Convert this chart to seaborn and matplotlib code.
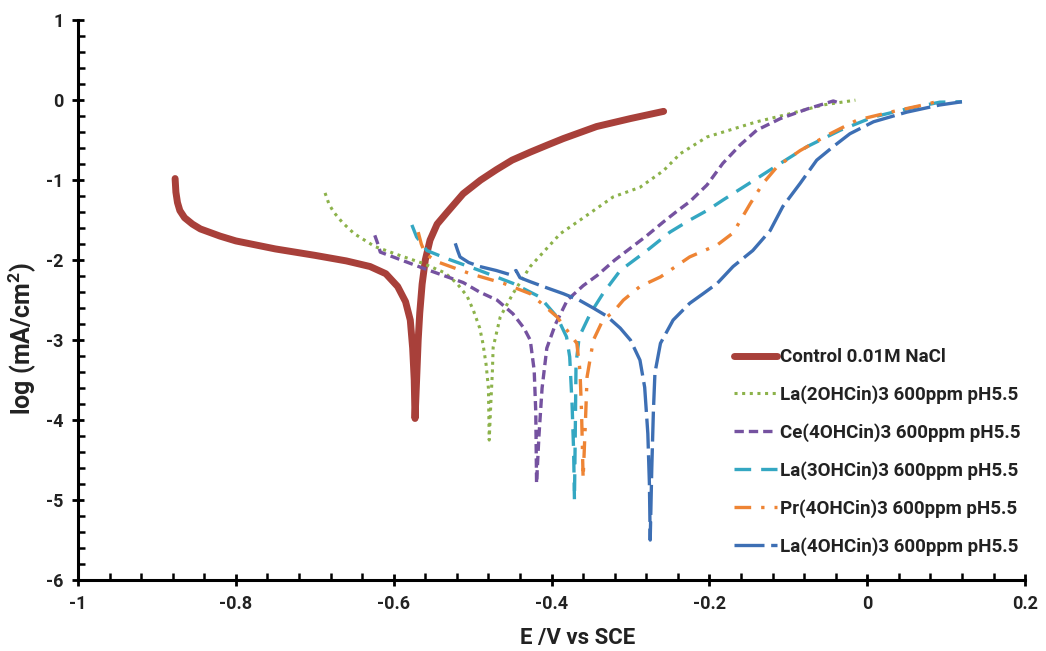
import numpy as np
import pandas as pd
import matplotlib
matplotlib.use("Agg")
import matplotlib.pyplot as plt
import seaborn as sns
from matplotlib.ticker import MultipleLocator

# -------------------------------
# Data (E in V vs SCE, log current density)
# -------------------------------
control_x = [-0.877, -0.876, -0.874, -0.871, -0.865, -0.855, -0.845, -0.82, -0.80, -0.75, -0.70, -0.66,
             -0.63, -0.61, -0.595, -0.585, -0.579, -0.576, -0.574, -0.573,
             -0.571, -0.569, -0.567, -0.564, -0.560, -0.554, -0.545, -0.533, -0.512, -0.49, -0.47,
             -0.45, -0.427, -0.405, -0.385, -0.343, -0.30, -0.258]
control_y = [-0.98, -1.15, -1.28, -1.38, -1.47, -1.55, -1.61, -1.70, -1.76, -1.86, -1.94, -2.01,
             -2.08, -2.17, -2.33, -2.52, -2.75, -3.1, -3.5, -3.98,
             -3.5, -3.0, -2.66, -2.3, -2.0, -1.75, -1.55, -1.41, -1.17, -1.0, -0.87,
             -0.75, -0.65, -0.56, -0.48, -0.33, -0.23, -0.14]

la2_x = [-0.687, -0.682, -0.676, -0.665, -0.650, -0.624, -0.59, -0.563, -0.535, -0.520, -0.507, -0.499,
         -0.491, -0.487, -0.483, -0.480, -0.479,
         -0.477, -0.475, -0.474, -0.465, -0.449, -0.427, -0.389, -0.364, -0.322, -0.288, -0.258,
         -0.237, -0.203, -0.183, -0.14, -0.098, -0.056, -0.015]
la2_y = [-1.16, -1.30, -1.40, -1.53, -1.67, -1.83, -1.95, -2.04, -2.16, -2.29, -2.45, -2.63,
         -2.85, -3.04, -3.3, -3.6, -4.25,
         -3.8, -3.4, -3.09, -2.71, -2.42, -2.08, -1.67, -1.5, -1.21, -1.09, -0.88,
         -0.67, -0.46, -0.40, -0.27, -0.17, -0.06, 0.0]

ce4_x = [-0.624, -0.620, -0.617, -0.59, -0.563, -0.512, -0.491, -0.469, -0.449, -0.435, -0.427, -0.422,
         -0.420, -0.419,
         -0.416, -0.412, -0.406, -0.395, -0.380, -0.36, -0.342, -0.32, -0.30, -0.28, -0.258, -0.24,
         -0.225, -0.203, -0.183, -0.161, -0.140, -0.110, -0.076, -0.043, -0.034]
ce4_y = [-1.69, -1.80, -1.90, -2.0, -2.10, -2.28, -2.40, -2.50, -2.67, -2.85, -3.0, -3.38,
         -3.9, -4.79,
         -4.2, -3.6, -3.1, -2.8, -2.5, -2.32, -2.19, -2.0, -1.85, -1.70, -1.52, -1.38,
         -1.27, -1.06, -0.79, -0.56, -0.375, -0.23, -0.11, -0.01, -0.04]

la3_x = [-0.577, -0.571, -0.558, -0.533, -0.491, -0.449, -0.415, -0.393, -0.381, -0.377, -0.374, -0.372,
         -0.371,
         -0.370, -0.369, -0.365, -0.351, -0.335, -0.313, -0.279, -0.250, -0.225, -0.203, -0.183,
         -0.140, -0.110, -0.076, -0.034, 0.008, 0.050, 0.092, 0.12]
la3_y = [-1.56, -1.71, -1.88, -1.98, -2.13, -2.29, -2.46, -2.71, -2.96, -3.21, -3.8, -4.4,
         -5.0,
         -4.2, -3.3, -2.96, -2.67, -2.42, -2.13, -1.88, -1.65, -1.5, -1.38, -1.25,
         -0.98, -0.79, -0.58, -0.375, -0.21, -0.11, -0.025, -0.02]

pr4_x = [-0.569, -0.565, -0.560, -0.545, -0.503, -0.461, -0.427, -0.393, -0.368, -0.364, -0.362, -0.360,
         -0.357, -0.355, -0.347, -0.335, -0.322, -0.309, -0.288, -0.262, -0.225, -0.19, -0.170,
         -0.148, -0.132, -0.114, -0.085, -0.047, -0.013, 0.029, 0.071, 0.096]
pr4_y = [-1.65, -1.80, -1.92, -2.02, -2.17, -2.29, -2.42, -2.71, -3.04, -3.38, -3.9, -4.73,
         -4.0, -3.46, -3.0, -2.75, -2.65, -2.5, -2.33, -2.21, -1.96, -1.81, -1.66,
         -1.29, -1.04, -0.83, -0.63, -0.42, -0.25, -0.15, -0.06, 0.0]

la4_x = [-0.522, -0.519, -0.516, -0.505, -0.491, -0.470, -0.453, -0.445, -0.440, -0.427, -0.405, -0.385,
         -0.365, -0.347, -0.330, -0.313, -0.300, -0.288, -0.282, -0.278, -0.276, -0.275,
         -0.273, -0.271, -0.269, -0.262, -0.246, -0.225, -0.208, -0.190, -0.170, -0.145, -0.123,
         -0.107, -0.085, -0.064, -0.043, -0.022, 0.008, 0.050, 0.092, 0.12]
la4_y = [-1.79, -1.88, -1.96, -2.03, -2.08, -2.13, -2.18, -2.13, -2.22, -2.27, -2.35, -2.42,
         -2.50, -2.60, -2.70, -2.85, -3.0, -3.25, -3.59, -4.17, -4.8, -5.5,
         -4.6, -3.9, -3.41, -3.04, -2.75, -2.54, -2.42, -2.29, -2.08, -1.88, -1.63,
         -1.33, -1.04, -0.75, -0.58, -0.42, -0.27, -0.15, -0.06, -0.02]

labels = ["Control 0.01M NaCl", "La(2OHCin)3 600ppm pH5.5", "Ce(4OHCin)3 600ppm pH5.5",
          "La(3OHCin)3 600ppm pH5.5", "Pr(4OHCin)3 600ppm pH5.5", "La(4OHCin)3 600ppm pH5.5"]
series = [(control_x, control_y), (la2_x, la2_y), (ce4_x, ce4_y),
          (la3_x, la3_y), (pr4_x, pr4_y), (la4_x, la4_y)]

# -------------------------------
# Styles
# -------------------------------
colors = ["#a8403a", "#8cb24a", "#7552a0", "#34a7c2", "#ee8434", "#3d6fb4"]
widths = [5.0, 2.2, 2.4, 2.4, 2.4, 2.4]
dashes = ["-", (0, (1, 1.5)), (0, (2.8, 1.5)), (0, (5, 3)), (0, (5, 3, 1, 3)), (0, (9, 2))]

sns.set_style("white")
plt.rcParams["font.family"] = ["Roboto", "DejaVu Sans"]
plt.rcParams["axes.unicode_minus"] = False
plt.rcParams["mathtext.default"] = "regular"

fig = plt.figure(figsize=(10.46, 6.51), dpi=100)
ax = fig.add_axes([0.0746, 0.109, 0.9054, 0.860])

for (xs, ys), lab, c, w, ls in zip(series, labels, colors, widths, dashes):
    df = pd.DataFrame({"E": xs, "logi": ys})
    sns.lineplot(data=df, x="E", y="logi", sort=False, estimator=None, ax=ax,
                 color=c, linewidth=w, linestyle=ls, label=lab)

ax.set_xlim(-1, 0.2)
ax.set_ylim(-6, 1)
ax.xaxis.set_major_locator(MultipleLocator(0.2))
ax.xaxis.set_minor_locator(MultipleLocator(0.04))
ax.yaxis.set_major_locator(MultipleLocator(1))
ax.yaxis.set_minor_locator(MultipleLocator(0.2))
ax.xaxis.set_major_formatter(plt.FuncFormatter(lambda v, p: f"{round(v, 1):g}"))
ax.yaxis.set_major_formatter(plt.FuncFormatter(lambda v, p: f"{round(v):d}"))

for side in ["top", "right"]:
    ax.spines[side].set_visible(False)
for side in ["left", "bottom"]:
    ax.spines[side].set_linewidth(2.2)
    ax.spines[side].set_color("black")

ax.tick_params(which="major", direction="inout", length=9, width=2, color="black",
               labelsize=13, pad=6)
ax.tick_params(which="minor", direction="in", length=5, width=1.8, color="black")
ax.tick_params(which="both", left=True, bottom=True)
for t in ax.get_xticklabels() + ax.get_yticklabels():
    t.set_fontweight("bold")
    t.set_color("#222222")

ax.set_xlabel("E /V vs SCE", fontsize=16, fontweight="bold", color="#222222")
ax.set_ylabel("log (mA/cm$^{2}$)", fontsize=18, fontweight="bold", color="#222222")
ax.xaxis.set_label_coords(0.527, -0.083)
ax.yaxis.set_label_coords(-0.042, 0.432)

leg = ax.legend(loc="lower left", bbox_to_anchor=(0.675, 0.013), frameon=False,
                fontsize=13.5, handlelength=2.3, handletextpad=0.15, labelspacing=1.02)
for t in leg.get_texts():
    t.set_fontweight("bold")
    t.set_color("#222222")

fig.savefig("out.png", dpi=100)
